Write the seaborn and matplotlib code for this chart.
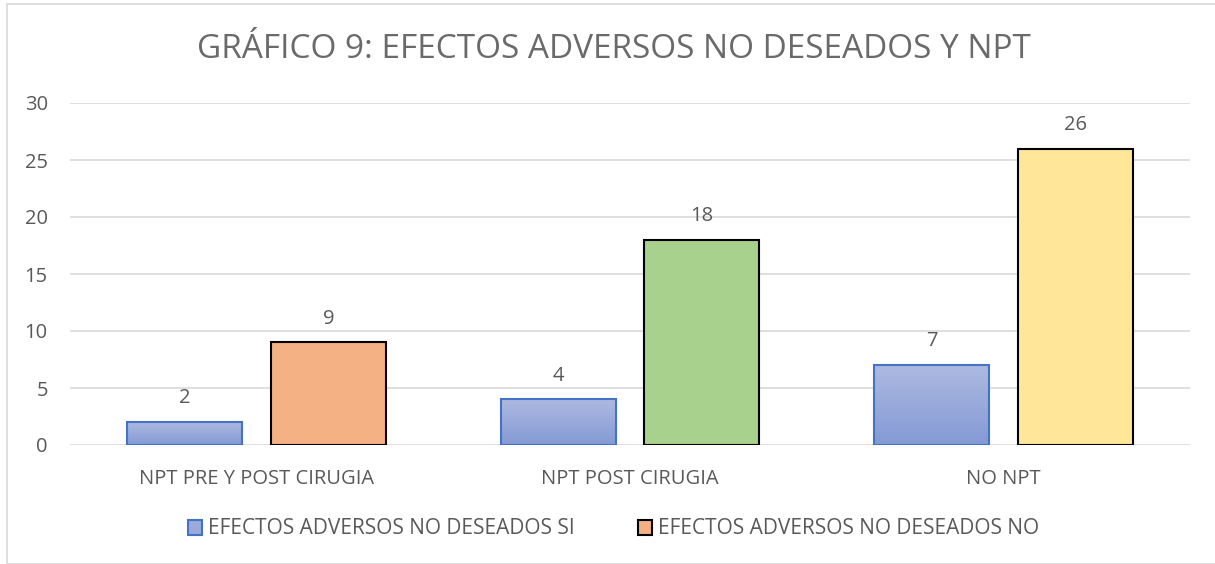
import numpy as np
import pandas as pd
import matplotlib
matplotlib.use("Agg")
import matplotlib.pyplot as plt
from matplotlib.patches import Rectangle, Patch
import seaborn as sns

categories = ["NPT PRE Y POST CIRUGIA", "NPT POST CIRUGIA", "NO NPT"]
series_names = ["EFECTOS ADVERSOS NO DESEADOS SI", "EFECTOS ADVERSOS NO DESEADOS NO"]
si_values = [2, 4, 7]
no_values = [9, 18, 26]
yticks = [0, 5, 10, 15, 20, 25, 30]
title = "GRÁFICO 9: EFECTOS ADVERSOS NO DESEADOS Y NPT"

no_colors = ["#F4B183", "#A9D18E", "#FFE699"]
blue_top = np.array([0xAD, 0xB9, 0xE0]) / 255
blue_bot = np.array([0x84, 0x9A, 0xD5]) / 255
blue_edge = "#4472C4"
text_gray = "#595959"

sns.set_theme(style="white")
plt.rcParams['font.family'] = ['Open Sans', 'DejaVu Sans']

df = pd.DataFrame({
    "cat": categories * 2,
    "serie": [series_names[0]] * 3 + [series_names[1]] * 3,
    "val": si_values + no_values,
})

fig = plt.figure(figsize=(12.15, 5.64), dpi=100)
ax = fig.add_axes([70 / 1215, 1 - 445 / 564, 1120 / 1215, 342 / 564])

sns.barplot(data=df, x="cat", y="val", hue="serie", order=categories,
            hue_order=series_names, width=0.77, gap=0.2, ax=ax, legend=False,
            saturation=1)

ax.set_ylim(0, 30)
ax.set_xlim(-0.5, 2.5)
ax.set_yticks(yticks)
ax.yaxis.grid(True, color="#D9D9D9", linewidth=1.2)
ax.set_axisbelow(True)
for s in ax.spines.values():
    s.set_visible(False)
ax.set_xlabel("")
ax.set_ylabel("")
ax.tick_params(axis="x", length=0, labelsize=14.5, labelcolor=text_gray, pad=17)
ax.tick_params(axis="y", length=0, labelsize=14.5, labelcolor=text_gray, pad=16)

# gradient image
grad = np.linspace(0, 1, 256)[:, None, None]
img = blue_top[None, None, :] * (1 - grad) + blue_bot[None, None, :] * grad
img = np.repeat(img, 2, axis=1)

patches = list(ax.patches)
si_patches = sorted(patches[:3], key=lambda p: p.get_x())
no_patches = sorted(patches[3:6], key=lambda p: p.get_x())
for p, v in zip(si_patches, si_values):
    p.set_facecolor("none")
    p.set_edgecolor(blue_edge)
    p.set_linewidth(1.5)
    p.set_zorder(3)
    x0, w, h = p.get_x(), p.get_width(), p.get_height()
    im = ax.imshow(img, extent=[x0, x0 + w, 0, h], aspect="auto", zorder=2,
                   origin="upper")
    im.set_clip_path(p)
    ax.annotate(str(v), (x0 + w / 2, h), xytext=(0, 10), textcoords="offset points",
                ha="center", va="bottom", fontsize=14.5, color=text_gray)
for p, v, c in zip(no_patches, no_values, no_colors):
    p.set_facecolor(c)
    p.set_edgecolor("black")
    p.set_linewidth(1.5)
    p.set_zorder(3)
    x0, w, h = p.get_x(), p.get_width(), p.get_height()
    ax.annotate(str(v), (x0 + w / 2, h), xytext=(0, 10), textcoords="offset points",
                ha="center", va="bottom", fontsize=14.5, color=text_gray)
ax.set_xlim(-0.5, 2.5)
ax.set_ylim(0, 30)

fig.text(0.505, 1 - 49 / 564, title, ha="center", va="center", fontsize=24,
         color="#6A6A6A")

handles = [Patch(facecolor="#9AAADB", edgecolor=blue_edge, linewidth=1.5),
           Patch(facecolor=no_colors[0], edgecolor="black", linewidth=1.5)]
leg = fig.legend(handles, series_names, loc="center", bbox_to_anchor=(0.505, 1 - 529 / 564),
                 ncol=2, frameon=False, fontsize=15, handlelength=0.7, handleheight=0.7,
                 handletextpad=0.3, columnspacing=3.0, labelcolor=text_gray)

fig.patches.append(Rectangle((7 / 1215, 0), 1, 1 - 4 / 564, transform=fig.transFigure,
                             fill=False, edgecolor="#D9D9D9", linewidth=1.2))

fig.savefig("out.png", dpi=100)
